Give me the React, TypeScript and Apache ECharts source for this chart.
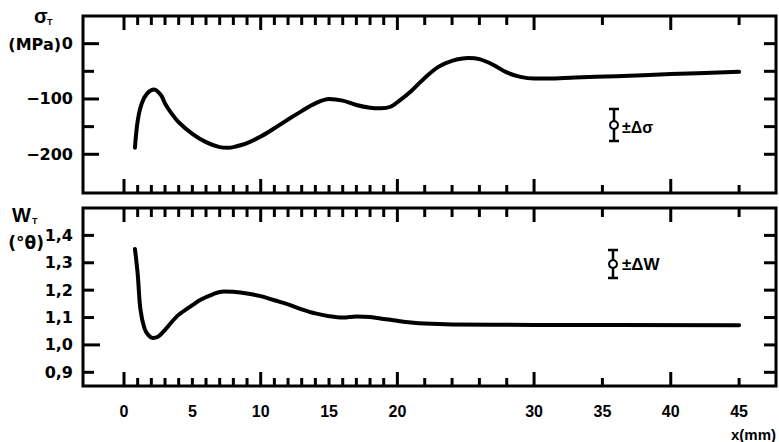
import React, { useEffect, useRef } from "react";
import * as echarts from "echarts";

// ---------- data ----------
const X_MIN = -3;
const X_MAX = 47.7;
const xMajorTicks = [0, 10, 20, 30, 40];
const xMinorTicks = [1, 2, 3, 4, 5, 6, 7, 8, 9, 11, 12, 13, 14, 15, 16, 17, 18, 19, 22, 24, 26, 28, 35, 45];
const xTickLabels = [0, 5, 10, 15, 20, 30, 35, 40, 45];

// residual stress sigma_T (MPa)
const SIGMA_MIN = -270;
const SIGMA_MAX = 50;
const sigmaMajorTicks = [0, -100, -200];
const sigmaMinorTicks = [-50, -150];
const sigmaX = [0.8, 1.0, 1.3, 1.7, 2.2, 2.7, 3.0, 3.5, 4.0, 5.0, 6.0, 7.0, 7.6, 8.0, 9.0, 10.0, 11.0, 12.0, 13.0, 14.0, 15.0, 16.0, 17.0, 18.0, 18.8, 19.5, 20.2, 21.0, 22.0, 23.0, 24.0, 25.2, 26.0, 27.0, 28.0, 29.0, 30.0, 31.0, 33.0, 36.0, 40.0, 45.0];
const sigmaY = [-188, -140, -108, -90, -83, -93, -108, -127, -142, -163, -178, -187, -188, -187, -180, -168, -153, -137, -122, -108, -100, -103, -111, -116, -117, -114, -102, -86, -62, -42, -31, -26, -28, -38, -52, -60, -63, -63, -61, -59, -55, -51];

// line width W_T (deg theta)
const W_MIN = 0.85;
const W_MAX = 1.5;
const wMajorTicks = [1.0];
const wMinorTicks = [0.9, 1.1, 1.2, 1.3, 1.4];
const wTickLabels = [0.9, 1.0, 1.1, 1.2, 1.3, 1.4];
const wX = [0.8, 1.0, 1.2, 1.5, 1.8, 2.1, 2.5, 3.0, 3.6, 4.0, 5.0, 5.6, 6.5, 7.3, 8.0, 9.0, 10.0, 11.0, 12.0, 13.0, 14.0, 15.0, 16.0, 17.0, 18.0, 19.0, 20.0, 21.0, 22.0, 24.0, 30.0, 45.0];
const wY = [1.35, 1.26, 1.13, 1.06, 1.035, 1.025, 1.03, 1.055, 1.09, 1.11, 1.145, 1.165, 1.185, 1.195, 1.194, 1.188, 1.178, 1.163, 1.148, 1.13, 1.115, 1.105, 1.1, 1.104, 1.102, 1.095, 1.088, 1.082, 1.078, 1.075, 1.073, 1.072];

const FONT = "'Liberation Sans', Arial, sans-serif";
const FONT_WIDE = "'DejaVu Sans', sans-serif";

export default function App() {
  const ref = useRef<HTMLDivElement>(null);
  useEffect(() => {
    if (!ref.current) return;
    const chart = echarts.init(ref.current, undefined, { renderer: "svg" });

    const xAxis = (grid: number, showLabels: boolean) => ({
      gridIndex: grid,
      type: "value",
      min: X_MIN,
      max: X_MAX,
      axisLine: { show: false, onZero: false },
      axisTick: { show: false },
      splitLine: { show: false },
      axisLabel: showLabels
        ? { show: true, customValues: xTickLabels, margin: 17, color: "#000", fontFamily: FONT, fontWeight: "bold", fontSize: 16 }
        : { show: false },
    });

    const yAxis = (grid: number, min: number, max: number, labels: number[], fmt: (v: number) => string) => ({
      gridIndex: grid,
      type: "value",
      min,
      max,
      axisLine: { show: false, onZero: false },
      axisTick: { show: false },
      splitLine: { show: false },
      axisLabel: {
        show: true,
        customValues: labels,
        margin: 10,
        formatter: fmt,
        color: "#000",
        fontFamily: FONT_WIDE,
        fontWeight: "bold",
        fontSize: 16,
      },
    });

    const sigmaFmt = (v: number) => (v < 0 ? "\u2212" + Math.abs(v) : String(v));
    const wFmt = (v: number) => v.toFixed(1).replace(".", ",");

    const lineSeries = (idx: number, xs: number[], ys: number[]) => ({
      type: "line",
      xAxisIndex: idx,
      yAxisIndex: idx,
      data: xs.map((x, i) => [x, ys[i]]),
      smooth: 0.35,
      showSymbol: false,
      symbol: "none",
      lineStyle: { color: "#000", width: 4, cap: "round", join: "round" },
    });

    // one tick per data item, drawn from a frame edge inward (dx, dy in pixels)
    const tickSeries = (idx: number, points: number[][], dx: number, dy: number) => ({
      type: "custom",
      xAxisIndex: idx,
      yAxisIndex: idx,
      clip: false,
      data: points,
      renderItem: (params: any, api: any) => {
        const p = api.coord([api.value(0), api.value(1)]);
        return {
          type: "line",
          shape: { x1: p[0], y1: p[1], x2: p[0] + dx, y2: p[1] + dy },
          style: { stroke: "#000", lineWidth: 3 },
        };
      },
    });

    const xs = (vals: number[], y: number) => vals.map((v) => [v, y]);
    const ys = (vals: number[], x: number) => vals.map((v) => [x, v]);

    const tickSet = [
      tickSeries(0, xs(xMajorTicks, SIGMA_MIN), 0, -14),
      tickSeries(0, xs(xMinorTicks, SIGMA_MIN), 0, -8),
      tickSeries(0, xs(xMajorTicks, SIGMA_MAX), 0, 14),
      tickSeries(0, xs(xMinorTicks, SIGMA_MAX), 0, 9),
      tickSeries(0, ys(sigmaMajorTicks, X_MIN), 16, 0),
      tickSeries(0, ys(sigmaMinorTicks, X_MIN), 11, 0),
      tickSeries(0, ys([...sigmaMajorTicks, ...sigmaMinorTicks], X_MAX), -12, 0),
      tickSeries(1, xs(xMajorTicks, W_MIN), 0, -14),
      tickSeries(1, xs(xMinorTicks, W_MIN), 0, -8),
      tickSeries(1, xs(xMajorTicks, W_MAX), 0, 14),
      tickSeries(1, xs(xMinorTicks, W_MAX), 0, 9),
      tickSeries(1, ys(wMajorTicks, X_MIN), 17, 0),
      tickSeries(1, ys(wMinorTicks, X_MIN), 11, 0),
      tickSeries(1, ys([...wMajorTicks, ...wMinorTicks], X_MAX), -12, 0),
    ];

    const txt = (text: string, x: number, y: number, size: number, align = "left", family = FONT) => ({
      type: "text",
      x,
      y,
      silent: true,
      style: {
        text,
        fill: "#000",
        fontFamily: family,
        fontWeight: "bold",
        fontSize: size,
        align,
        verticalAlign: "middle",
        textAlign: align,
        textVerticalAlign: "middle",
      },
    });

    const errBar = (cx: number, y1: number, y2: number) => {
      const cy = (y1 + y2) / 2;
      const ls = { stroke: "#000", lineWidth: 2.5 };
      return [
        { type: "line", silent: true, shape: { x1: cx, y1, x2: cx, y2 }, style: ls },
        { type: "line", silent: true, shape: { x1: cx - 5, y1, x2: cx + 5, y2: y1 }, style: ls },
        { type: "line", silent: true, shape: { x1: cx - 5, y1: y2, x2: cx + 5, y2 }, style: ls },
        { type: "circle", silent: true, z: 10, shape: { cx, cy, r: 4 }, style: { fill: "#fff", stroke: "#000", lineWidth: 2 } },
      ];
    };

    chart.setOption({
      animation: false,
      grid: [
        { left: 83, top: 16, width: 693, height: 177, show: true, borderColor: "#000", borderWidth: 3 },
        { left: 83, top: 208, width: 693, height: 178, show: true, borderColor: "#000", borderWidth: 3 },
      ],
      xAxis: [xAxis(0, false), xAxis(1, true)],
      yAxis: [
        yAxis(0, SIGMA_MIN, SIGMA_MAX, sigmaMajorTicks, sigmaFmt),
        yAxis(1, W_MIN, W_MAX, wTickLabels, wFmt),
      ],
      series: [lineSeries(0, sigmaX, sigmaY), lineSeries(1, wX, wY), ...tickSet],
      graphic: [
        txt("σ", 34, 16, 20),
        txt("T", 47, 22, 9),
        txt("(MPa)", 61, 44, 16, "right", FONT_WIDE),
        txt("W", 12, 215, 20),
        txt("T", 32, 221, 9),
        txt("(°θ)", 44, 243, 17, "right", FONT_WIDE),
        txt("x(mm)", 776, 434, 15, "right"),
        ...errBar(614, 109, 141),
        txt("±Δσ", 622, 127, 16),
        ...errBar(613, 250, 278),
        txt("±ΔW", 622, 264, 17),
      ],
    });
    return () => chart.dispose();
  }, []);
  return <div ref={ref} style={{ position: "absolute", left: 0, top: 0, width: 779, height: 442 }} />;
}
